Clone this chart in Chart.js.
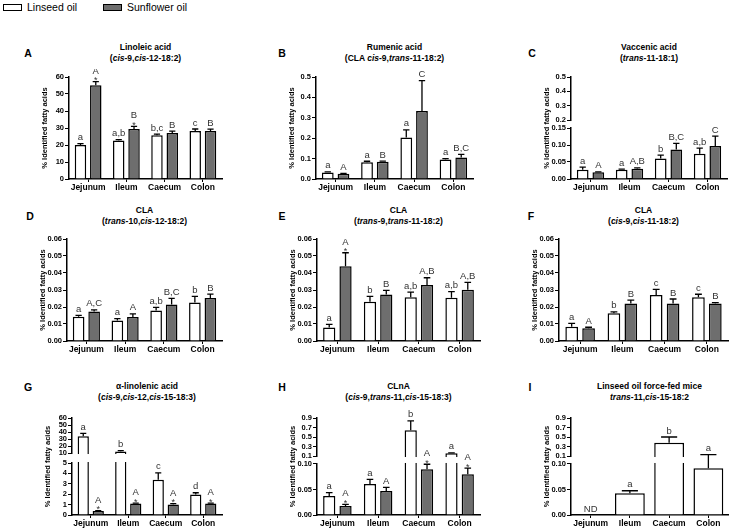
<!DOCTYPE html>
<html>
<head>
<meta charset="utf-8">
<script src="https://cdn.jsdelivr.net/npm/chart.js@4.4.1/dist/chart.umd.min.js"></script>
<style>
  html, body { margin: 0; padding: 0; background: #fff; }
  body { width: 731px; height: 530px; position: relative; overflow: hidden; font-family: "Liberation Sans", Arial, sans-serif; color: #000; }
  .box { position: absolute; }
  .ttl { position: absolute; font-weight: bold; font-size: 8.5px; line-height: 11px; text-align: center; white-space: nowrap; transform: translateX(-50%); }
  .letter { position: absolute; font-weight: bold; font-size: 10.5px; line-height: 12px; transform: translate(-50%, -50%); }
  .leg { position: absolute; top: 1px; font-size: 10.5px; line-height: 12px; white-space: nowrap; display: flex; align-items: center; }
  .sw { display: inline-block; width: 19px; height: 7px; box-sizing: border-box; border: 1.5px solid #000; margin-right: 5px; }
</style>
</head>
<body>
<div class="leg" style="left:3px"><span class="sw" style="background:#fff"></span>Linseed oil</div>
<div class="leg" style="left:103px"><span class="sw" style="background:#6e6e6e"></span>Sunflower oil</div>
<script>
const categories = ['Jejunum', 'Ileum', 'Caecum', 'Colon'];

// A - linoleic acid
const linoleicLin = [20.0, 22.6, 25.7, 28.2];
const linoleicLinErr = [0.8, 0.6, 0.7, 1.2];
const linoleicSun = [55.1, 29.4, 27.0, 28.3];
const linoleicSunErr = [2.2, 1.6, 1.2, 1.0];
const linoleicLinMarks = ['a', 'a,b', 'b,c', 'c'];
const linoleicSunMarks = ['A*', 'B*', 'B', 'B'];
const linoleicTicks = ['0', '10', '20', '30', '40', '50', '60'];

// B - rumenic acid
const rumenicLin = [0.032, 0.082, 0.204, 0.096];
const rumenicLinErr = [0.003, 0.005, 0.037, 0.004];
const rumenicSun = [0.026, 0.084, 0.333, 0.106];
const rumenicSunErr = [0.002, 0.004, 0.149, 0.015];
const rumenicLinMarks = ['a', 'a', 'a', 'a'];
const rumenicSunMarks = ['A', 'B', 'C', 'B,C'];
const rumenicTicks = ['0.0', '0.1', '0.2', '0.3', '0.4', '0.5'];

// C - vaccenic acid
const vaccenicLin = [0.027, 0.027, 0.060, 0.074];
const vaccenicLinErr = [0.008, 0.002, 0.010, 0.017];
const vaccenicSun = [0.020, 0.030, 0.087, 0.097];
const vaccenicSunErr = [0.001, 0.003, 0.018, 0.029];
const vaccenicLinMarks = ['a', 'a', 'b', 'a,b'];
const vaccenicSunMarks = ['A', 'A,B', 'B,C', 'C'];
const vaccenicTicks = ['0.00', '0.05', '0.10', '0.15'];
const vaccenicTicksHigh = ['0.2', '0.3', '0.4', '0.5'];

// D - CLA t10,c12
const t10c12Lin = [0.0143, 0.0120, 0.0180, 0.0227];
const t10c12LinErr = [0.0008, 0.0012, 0.0018, 0.0035];
const t10c12Sun = [0.0173, 0.0141, 0.0214, 0.0253];
const t10c12SunErr = [0.0010, 0.0018, 0.0037, 0.0023];
const t10c12LinMarks = ['a', 'a', 'a,b', 'b'];
const t10c12SunMarks = ['A,C', 'A', 'B,C', 'B'];

// E - CLA t9,t11
const t9t11Lin = [0.0080, 0.0231, 0.0257, 0.0255];
const t9t11LinErr = [0.0018, 0.0032, 0.0030, 0.0035];
const t9t11Sun = [0.0439, 0.0273, 0.0329, 0.0302];
const t9t11SunErr = [0.0080, 0.0025, 0.0043, 0.0043];
const t9t11LinMarks = ['a', 'b', 'a,b', 'a,b'];
const t9t11SunMarks = ['A*', 'B', 'A,B', 'A,B'];

// F - CLA c9,c11
const c9c11Lin = [0.0084, 0.0163, 0.0271, 0.0257];
const c9c11LinErr = [0.0020, 0.0008, 0.0033, 0.0018];
const c9c11Sun = [0.0075, 0.0220, 0.0220, 0.0220];
const c9c11SunErr = [0.0006, 0.0021, 0.0027, 0.0006];
const c9c11LinMarks = ['a', 'b', 'c', 'c'];
const c9c11SunMarks = ['A', 'B', 'B', 'B'];

const claTicks = ['0.00', '0.01', '0.02', '0.03', '0.04', '0.05', '0.06'];

// G - alpha-linolenic acid
const alaLin = [34, 12, 3.4, 1.97];
const alaLinErr = [4, 1.5, 0.65, 0.17];
const alaSun = [0.38, 1.1, 1.0, 1.1];
const alaSunErr = [0.05, 0.05, 0.1, 0.05];
const alaLinMarks = ['a', 'b', 'c', 'd'];
const alaSunMarks = ['A*', 'A*', 'A*', 'A*'];
const alaTicks = ['0', '1', '2', '3', '4', '5'];
const alaTicksHigh = ['10', '20', '30', '40', '50', '60'];

// H - CLnA
const clnaLin = [0.037, 0.061, 0.64, 0.16];
const clnaLinErr = [0.007, 0.009, 0.2, 0.005];
const clnaSun = [0.0176, 0.047, 0.0895, 0.080];
const clnaSunErr = [0.0033, 0.007, 0.010, 0.012];
const clnaLinMarks = ['a', 'a', 'b', 'a'];
const clnaSunMarks = ['A*', 'A', 'A*', 'A*'];

// I - t11,c15-18:2 (linseed only)
const t11c15Lin = [null, 0.0425, 0.38, 0.0915];
const t11c15LinErr = [0, 0.005, 0.12, 0.04];
const t11c15LinMarks = ['ND', 'a', 'b', 'a'];

const smallTicks = ['0.00', '0.05', '0.10'];
const smallTicksHigh = ['0.1', '0.3', '0.5', '0.7', '0.9'];

const FONT = '"Liberation Sans", Arial, sans-serif';
Chart.defaults.font.family = FONT;
Chart.defaults.color = '#000';

// linear scale with an optional broken segment
class BrokenLinearScale extends Chart.LinearScale {
  getPixelForValue(value) {
    const lo = this.options.brkLow;
    if (lo === undefined || lo === null) return super.getPixelForValue(value);
    if (value === null || isNaN(value)) return NaN;
    const hi = this.options.brkHigh, frac = this.options.brkFrac, gap = this.options.brkGap;
    let d;
    if (value <= lo) d = value / lo * frac;
    else d = frac + gap + (value - hi) / (this.max - hi) * (1 - frac - gap);
    return this.getPixelForDecimal(d);
  }
}
BrokenLinearScale.id = 'brokenLinear';
BrokenLinearScale.defaults = Chart.LinearScale.defaults;
Chart.register(BrokenLinearScale);

const panels = [
  { key: 'A', box: [69, 222, 77, 179], row: 0, lx: 28,
    title: ['Linoleic acid', '(<i>cis</i>-9,<i>cis</i>-12-18:2)'],
    series: [linoleicLin, linoleicSun], errs: [linoleicLinErr, linoleicSunErr],
    marks: [linoleicLinMarks, linoleicSunMarks], ticks: linoleicTicks },
  { key: 'B', box: [316, 473, 77, 179], row: 0, lx: 282,
    title: ['Rumenic acid', '(CLA <i>cis</i>-9,<i>trans</i>-11-18:2)'],
    series: [rumenicLin, rumenicSun], errs: [rumenicLinErr, rumenicSunErr],
    marks: [rumenicLinMarks, rumenicSunMarks], ticks: rumenicTicks },
  { key: 'C', box: [571, 727, 77, 179], row: 0, lx: 532,
    title: ['Vaccenic acid', '(<i>trans</i>-11-18:1)'],
    series: [vaccenicLin, vaccenicSun], errs: [vaccenicLinErr, vaccenicSunErr],
    marks: [vaccenicLinMarks, vaccenicSunMarks], ticks: vaccenicTicks, ticksHigh: vaccenicTicksHigh,
    brk: { low: 0.15, high: 0.2, frac: 0.5, gap: 0.078 } },
  { key: 'D', box: [67, 222, 239, 341], row: 1, lx: 30,
    title: ['CLA', '(<i>trans</i>-10,<i>cis</i>-12-18:2)'],
    series: [t10c12Lin, t10c12Sun], errs: [t10c12LinErr, t10c12SunErr],
    marks: [t10c12LinMarks, t10c12SunMarks], ticks: claTicks },
  { key: 'E', box: [317, 480, 239, 341], row: 1, lx: 282,
    title: ['CLA', '(<i>trans</i>-9,<i>trans</i>-11-18:2)'],
    series: [t9t11Lin, t9t11Sun], errs: [t9t11LinErr, t9t11SunErr],
    marks: [t9t11LinMarks, t9t11SunMarks], ticks: claTicks },
  { key: 'F', box: [559, 728, 239, 341], row: 1, lx: 531,
    title: ['CLA', '(<i>cis</i>-9,<i>cis</i>-11-18:2)'],
    series: [c9c11Lin, c9c11Sun], errs: [c9c11LinErr, c9c11SunErr],
    marks: [c9c11LinMarks, c9c11SunMarks], ticks: claTicks },
  { key: 'G', box: [72, 222, 418, 515], row: 2, lx: 28,
    title: ['\u03b1-linolenic acid', '(<i>cis</i>-9,<i>cis</i>-12,<i>cis</i>-15-18:3)'],
    series: [alaLin, alaSun], errs: [alaLinErr, alaSunErr],
    marks: [alaLinMarks, alaSunMarks], ticks: alaTicks, ticksHigh: alaTicksHigh,
    brk: { low: 5, high: 10, frac: 0.536, gap: 0.103 } },
  { key: 'H', box: [317, 480, 418, 515], row: 2, lx: 282,
    title: ['CLnA', '(<i>cis</i>-9,<i>trans</i>-11,<i>cis</i>-15-18:3)'],
    series: [clnaLin, clnaSun], errs: [clnaLinErr, clnaSunErr],
    marks: [clnaLinMarks, clnaSunMarks], ticks: smallTicks, ticksHigh: smallTicksHigh,
    brk: { low: 0.10, high: 0.1, frac: 0.526, gap: 0.082 } },
  { key: 'I', box: [571, 728, 418, 515], row: 2, lx: 530,
    title: ['Linseed oil force-fed mice', '<i>trans</i>-11,<i>cis</i>-15-18:2'],
    series: [t11c15Lin], errs: [t11c15LinErr],
    marks: [t11c15LinMarks], ticks: smallTicks, ticksHigh: smallTicksHigh,
    brk: { low: 0.10, high: 0.1, frac: 0.526, gap: 0.082 } }
];

const titleTop = [41.5, 204.5, 380.5];
const letterY = [53, 216, 387];
const fills = ['#ffffff', '#6e6e6e'];
const names = ['Linseed oil', 'Sunflower oil'];

function extrasPlugin(p) {
  return {
    id: 'extras' + p.key,
    afterDatasetsDraw(chart) {
      const ctx = chart.ctx, y = chart.scales.y, area = chart.chartArea;
      ctx.save();
      if (p.brk) {
        // cut the axis and any bar crossing the break
        const yHi = y.getPixelForDecimal(p.brk.frac + p.brk.gap);
        const yLo = y.getPixelForDecimal(p.brk.frac);
        ctx.fillStyle = '#fff';
        ctx.fillRect(area.left - 3, yHi + 1, area.right - area.left + 6, yLo - yHi - 2);
      }
      chart.data.datasets.forEach((ds, di) => {
        const meta = chart.getDatasetMeta(di);
        meta.data.forEach((bar, i) => {
          const v = ds.data[i];
          let topY;
          if (v === null || v === undefined) {
            topY = y.getPixelForValue(0);
          } else {
            topY = y.getPixelForValue(v + p.errs[di][i]);
            const cw = bar.width * 0.27;
            ctx.strokeStyle = '#000';
            ctx.lineWidth = 1.3;
            ctx.beginPath();
            ctx.moveTo(bar.x, bar.y);
            ctx.lineTo(bar.x, topY);
            ctx.moveTo(bar.x - cw, topY);
            ctx.lineTo(bar.x + cw, topY);
            ctx.stroke();
          }
          const m = p.marks[di][i];
          if (!m) return;
          const star = m.endsWith('*');
          const txt = star ? m.slice(0, -1) : m;
          ctx.fillStyle = '#333';
          ctx.textAlign = 'center';
          ctx.textBaseline = 'alphabetic';
          let yy = topY - 3.5;
          if (star) {
            ctx.font = '9px ' + FONT;
            ctx.fillText('*', bar.x, topY + 1.5);
            yy = topY - 8;
          }
          ctx.font = '9.5px ' + FONT;
          ctx.fillText(txt, bar.x, yy);
        });
      });
      ctx.restore();
    }
  };
}

function drawPanel(p) {
  const [ax, rx, ty, zy] = p.box;
  const yW = 34, padT = 8, xH = 24, padR = 6;
  const w = rx - ax + yW + padR, h = zy - ty + padT + xH;

  const holder = document.createElement('div');
  holder.className = 'box';
  holder.style.left = (ax - yW) + 'px';
  holder.style.top = (ty - padT) + 'px';
  holder.style.width = w + 'px';
  holder.style.height = h + 'px';
  const cv = document.createElement('canvas');
  cv.width = w;
  cv.height = h;
  cv.style.width = w + 'px';
  cv.style.height = h + 'px';
  holder.appendChild(cv);
  document.body.appendChild(holder);

  const ttl = document.createElement('div');
  ttl.className = 'ttl';
  ttl.style.left = ((ax + rx) / 2) + 'px';
  ttl.style.top = titleTop[p.row] + 'px';
  ttl.innerHTML = p.title.join('<br>');
  document.body.appendChild(ttl);

  const let_ = document.createElement('div');
  let_.className = 'letter';
  let_.style.left = p.lx + 'px';
  let_.style.top = letterY[p.row] + 'px';
  let_.textContent = p.key;
  document.body.appendChild(let_);

  const high = p.ticksHigh || [];
  const tickLabels = p.ticks.concat(high);
  const tickValues = p.ticks.map(parseFloat)
    .concat(high.map(s => Math.max(parseFloat(s), p.brk.low + 1e-9)));
  const single = p.series.length === 1;

  const yOpts = {
    type: 'brokenLinear',
    min: 0,
    max: parseFloat(tickLabels[tickLabels.length - 1]),
    grid: { drawOnChartArea: false, tickLength: 4, color: '#000', lineWidth: 1 },
    border: { color: '#000', width: 1.5 },
    ticks: {
      autoSkip: false, padding: 1, color: '#000',
      font: { size: 7.5, weight: 'bold' },
      callback: (v, i) => tickLabels[i]
    },
    afterBuildTicks: s => { s.ticks = tickValues.map(v => ({ value: v })); },
    afterFit: s => { s.width = yW; },
    title: {
      display: true, text: '% Identified fatty acids', color: '#000',
      font: { size: 7.5, weight: 'bold' }, padding: { top: 5, bottom: 0 }
    }
  };
  if (p.brk) {
    yOpts.brkLow = p.brk.low;
    yOpts.brkHigh = p.brk.high;
    yOpts.brkFrac = p.brk.frac;
    yOpts.brkGap = p.brk.gap;
  }

  new Chart(cv, {
    type: 'bar',
    data: {
      labels: categories,
      datasets: p.series.map((s, i) => ({
        label: names[i],
        data: s,
        backgroundColor: fills[i],
        borderColor: '#000',
        borderWidth: 1.5,
        categoryPercentage: 0.8,
        barPercentage: single ? 0.95 : 0.75
      }))
    },
    options: {
      responsive: false,
      animation: false,
      events: [],
      layout: { padding: { top: padT, right: padR, left: 0, bottom: 0 } },
      plugins: { legend: { display: false }, tooltip: { enabled: false }, title: { display: false } },
      scales: {
        x: {
          type: 'category',
          offset: true,
          grid: { offset: false, drawOnChartArea: false, tickLength: 3, color: '#000', lineWidth: 1 },
          border: { color: '#000', width: 1.5 },
          ticks: { color: '#000', font: { size: 8.5, weight: 'bold' }, padding: 1, maxRotation: 0, autoSkip: false },
          afterFit: s => { s.height = xH; }
        },
        y: yOpts
      }
    },
    plugins: [extrasPlugin(p)]
  });
}

panels.forEach(drawPanel);
</script>
</body>
</html>
